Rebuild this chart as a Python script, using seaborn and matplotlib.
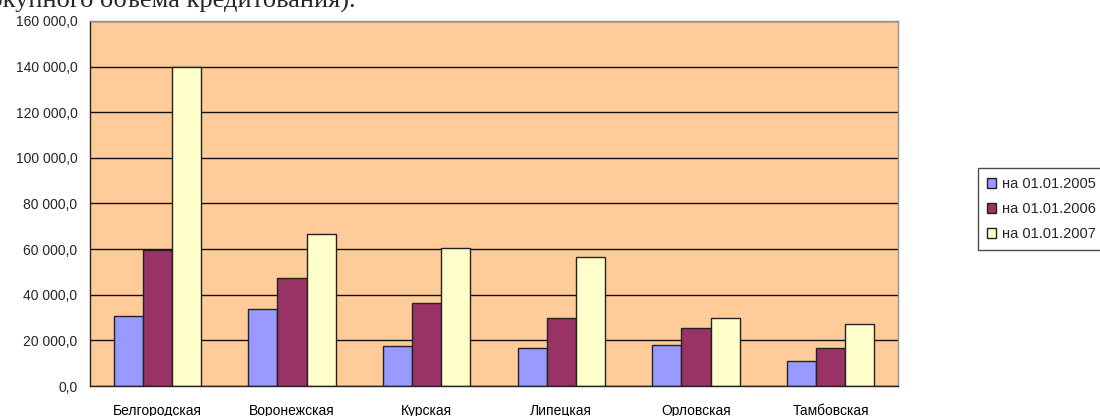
import seaborn as sns
import matplotlib.pyplot as plt
import matplotlib.ticker as mticker
import pandas as pd

regions = ['Белгородская', 'Воронежская', 'Курская', 'Липецкая', 'Орловская', 'Тамбовская']
series = ['на 01.01.2005', 'на 01.01.2006', 'на 01.01.2007']
v2005 = [30500, 33800, 17500, 16800, 18000, 11000]
v2006 = [59700, 47300, 36400, 29800, 25400, 16800]
v2007 = [139800, 66600, 60600, 56500, 29800, 27300]
colors = ['#9999FF', '#993366', '#FFFFCC']

data = pd.DataFrame({
    'region': regions * 3,
    'date': [s for s in series for _ in regions],
    'value': v2005 + v2006 + v2007,
})

sns.set_style('white')
plt.rcParams['font.family'] = ['Liberation Sans', 'DejaVu Sans']

fig = plt.figure(figsize=(11, 4.16), dpi=100)
ax = fig.add_axes([90 / 1100, 30 / 416, 808 / 1100, 365 / 416])
ax.set_facecolor('#FFCC99')

sns.barplot(data=data, x='region', y='value', hue='date', palette=colors,
            width=0.65, edgecolor='#222222', linewidth=1, saturation=1,
            errorbar=None, ax=ax)

ax.set_ylim(0, 160000)
ax.set_xlim(-0.5, 5.5)
ax.yaxis.set_major_locator(mticker.MultipleLocator(20000))
ax.yaxis.set_major_formatter(mticker.FuncFormatter(
    lambda v, p: f'{v:,.1f}'.replace(',', ' ').replace('.', ',')))
ax.yaxis.grid(True, color='#111111', linewidth=1)
ax.set_axisbelow(True)

ax.set_xticks(range(len(regions)))
ax.set_xticklabels(regions)
ax.xaxis.set_minor_locator(mticker.FixedLocator([i - 0.5 for i in range(len(regions) + 1)]))
ax.tick_params(axis='x', which='major', length=0, pad=13, labelsize=10, colors='#000000')
ax.tick_params(axis='x', which='minor', length=5, width=1, color='#222222', direction='out')
ax.tick_params(axis='y', length=5, width=1, color='#222222', direction='out', labelsize=10, pad=4)
ax.set_xlabel('')
ax.set_ylabel('')

for side in ['left', 'bottom']:
    ax.spines[side].set_color('#222222')
    ax.spines[side].set_linewidth(1)
for side in ['top', 'right']:
    ax.spines[side].set_color('#909090')
    ax.spines[side].set_linewidth(1)

handles, labels = ax.get_legend_handles_labels()
ax.legend(handles, labels, loc='center left', bbox_to_anchor=(978 / 1100, 207 / 416),
          bbox_transform=fig.transFigure, frameon=True, fancybox=False,
          edgecolor='#222222', fontsize=10.5, handlelength=0.65, handleheight=0.65,
          handletextpad=0.4, labelspacing=0.75, borderpad=0.6, borderaxespad=0)
ax.get_legend().get_frame().set_linewidth(1)

# текст документа над диаграммой, обрезанный сверху
fig.text(356 / 1100, 1 - 7 / 416, 'совокупного объема кредитования).',
         family=['Liberation Serif', 'DejaVu Serif'],
         fontsize=19, va='baseline', ha='right')

fig.savefig('out.png', dpi=100)
